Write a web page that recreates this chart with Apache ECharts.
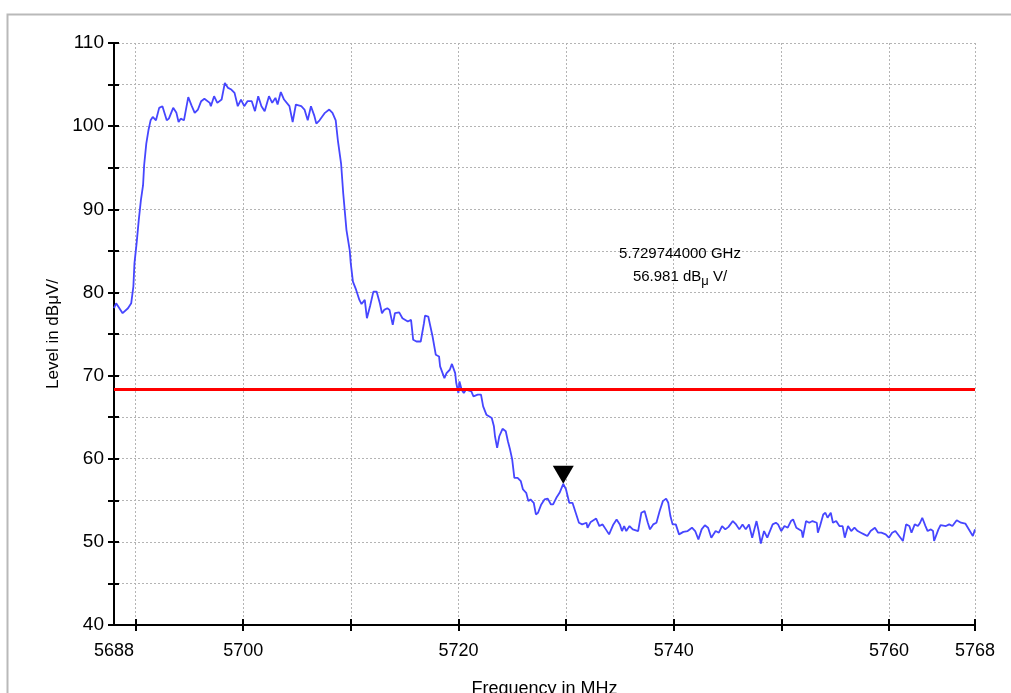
<!DOCTYPE html>
<html>
<head>
<meta charset="utf-8">
<script src="https://cdn.jsdelivr.net/npm/echarts@6/dist/echarts.min.js"></script>
<style>
html,body{margin:0;padding:0;background:#fff;}
#chart{width:1011px;height:693px;}
</style>
</head>
<body>
<div id="chart"></div>
<script>
const freq = [
5688.0,5688.2,5688.8,5689.3,5689.6,5689.8,5689.9,5690.1,5690.3,5690.5,5690.7,5690.8,5691.0,5691.2,5691.4,5691.6,5691.9,
5692.2,5692.5,5692.9,5693.1,5693.5,5693.8,5694.0,5694.2,5694.5,5694.9,5695.2,5695.5,5695.8,5696.1,5696.4,5696.9,5697.0,
5697.3,5697.6,5698.0,5698.3,5698.6,5698.9,5699.2,5699.5,5699.8,5700.1,5700.4,5700.8,5701.1,5701.4,5701.7,5702.0,5702.4,
5702.7,5703.0,5703.2,5703.5,5703.8,5704.3,5704.6,5704.9,5705.4,5705.7,5706.0,5706.3,5706.6,5706.8,5707.1,5707.6,5708.0,
5708.3,5708.6,5708.8,5709.1,5709.3,5709.6,5709.9,5710.0,5710.2,5710.5,5710.8,5711.0,5711.3,5711.5,5711.8,5712.1,5712.4,
5712.7,5712.9,5713.1,5713.4,5713.6,5713.9,5714.1,5714.5,5714.8,5715.3,5715.6,5715.8,5716.1,5716.5,5716.8,5716.9,5717.2,
5717.4,5717.6,5717.9,5718.2,5718.3,5718.7,5718.9,5719.2,5719.4,5719.7,5719.8,5720.0,5720.1,5720.3,5720.5,5720.7,5721.2,
5721.4,5721.8,5722.1,5722.3,5722.6,5723.1,5723.3,5723.4,5723.6,5723.8,5724.1,5724.4,5724.6,5724.8,5725.0,5725.2,5725.5,
5725.8,5726.0,5726.3,5726.5,5726.7,5727.0,5727.2,5727.4,5727.7,5728.0,5728.3,5728.6,5728.8,5729.1,5729.4,5729.744,5730.0,
5730.3,5730.6,5730.9,5731.2,5731.5,5731.9,5732.0,5732.3,5732.8,5733.1,5733.4,5733.7,5734.0,5734.4,5734.7,5735.0,5735.2,
5735.4,5735.6,5735.9,5736.2,5736.7,5737.0,5737.3,5737.6,5737.8,5738.1,5738.4,5738.7,5739.0,5739.3,5739.5,5739.7,5739.9,
5740.2,5740.5,5740.9,5741.3,5741.7,5742.0,5742.3,5742.6,5742.9,5743.2,5743.5,5743.9,5744.2,5744.5,5744.8,5745.1,5745.5,
5745.8,5746.1,5746.4,5746.7,5747.0,5747.3,5747.7,5747.9,5748.1,5748.4,5748.7,5749.2,5749.5,5749.7,5750.0,5750.3,5750.6,
5750.9,5751.1,5751.4,5751.9,5752.0,5752.3,5752.6,5752.9,5753.3,5753.4,5753.6,5753.9,5754.1,5754.3,5754.6,5754.8,5755.1,
5755.4,5755.7,5755.9,5756.2,5756.5,5756.8,5757.1,5757.4,5757.7,5758.0,5758.3,5758.7,5759.0,5759.3,5759.7,5760.0,5760.3,
5760.6,5761.3,5761.6,5761.9,5762.1,5762.4,5762.7,5762.9,5763.1,5763.4,5763.6,5763.9,5764.1,5764.2,5764.6,5764.8,5765.3,
5765.6,5765.9,5766.3,5766.7,5767.1,5767.8,5768.0
];
const level = [
78.1,78.7,77.5,78.1,78.7,80.7,83.5,85.9,88.7,91.1,92.9,95.3,97.9,99.5,100.7,101.1,100.7,
102.2,102.4,100.7,100.9,102.2,101.6,100.5,100.9,100.7,103.5,102.5,101.6,102.0,103.0,103.3,102.8,102.4,
103.6,102.8,103.2,105.2,104.6,104.4,104.0,102.4,103.2,102.4,103.0,103.0,101.8,103.6,102.4,101.8,103.6,
102.8,103.4,102.6,104.1,103.2,102.4,100.5,102.6,102.4,102.0,100.7,102.4,101.3,100.3,100.7,101.6,102.0,
101.6,100.7,98.3,95.5,91.9,87.5,85.1,83.5,81.3,80.3,79.1,78.6,79.1,76.9,78.4,80.1,80.1,
78.7,77.5,77.9,78.1,77.9,76.1,77.5,77.6,76.9,76.5,76.7,74.3,74.1,74.1,76.3,77.2,77.1,
75.9,74.7,72.5,72.3,71.1,69.7,70.3,70.7,71.4,70.3,69.1,67.9,69.3,68.3,67.9,68.3,68.1,
67.5,67.7,67.7,66.3,65.3,64.9,63.9,62.7,61.3,62.7,63.6,63.3,62.1,61.1,59.9,57.7,57.7,
57.3,56.3,55.9,54.9,55.1,54.7,53.3,53.5,54.5,55.1,55.2,54.5,54.5,55.3,55.9,56.981,56.3,
54.7,54.7,53.5,52.3,52.1,52.3,51.7,52.4,52.8,51.9,52.1,51.5,50.9,52.1,52.7,52.1,51.3,
51.9,51.3,51.9,51.5,51.3,53.5,53.7,52.3,51.5,52.1,52.3,53.7,54.9,55.2,54.7,53.1,52.1,
52.1,50.9,51.2,51.3,51.7,51.3,50.3,51.5,52.0,51.7,50.5,51.3,51.1,51.9,51.5,51.8,52.5,
52.1,51.5,52.1,51.5,52.1,50.5,52.5,51.3,49.8,51.3,50.5,52.1,52.3,52.1,51.3,51.9,51.7,
52.5,52.7,51.7,51.3,50.5,52.5,52.3,52.5,52.3,51.1,51.9,53.3,53.5,52.9,53.5,52.3,52.5,
51.9,51.9,50.5,51.9,51.3,51.7,51.3,51.1,50.9,50.7,51.3,51.7,51.1,51.1,50.9,50.5,51.1,
51.3,50.1,52.1,51.9,51.1,52.1,51.9,52.3,52.9,51.9,51.3,51.5,51.3,50.1,51.5,52.0,51.9,
52.1,51.9,52.6,52.3,52.2,50.7,51.5
];
const limitLevel = 68.4;
const markerFreq = 5729.744;
const markerLevel = 56.981;
const markerLines = ['5.729744000 GHz', '56.981 dB{sub|\u03bc} V/'];
const xTickValues = [5690,5700,5710,5720,5730,5740,5750,5760,5768];
const xLabelValues = [5688,5700,5720,5740,5760,5768];
const xMin = 5688, xMax = 5768;
const yMin = 40, yMax = 110, yStep = 5;
const xName = 'Frequency in MHz';
const yName = 'Level in dB\u03bcV/';

const chart = echarts.init(document.getElementById('chart'));
const FONT = 'Liberation Sans, Arial, sans-serif';
const grid = {left:114, top:43, right:36, bottom:68, containLabel:false, outerBoundsMode:'none'};
const split = {show:true, lineStyle:{color:'#b4b4b4', type:[2,2], width:1}};

const option = {
  animation:false,
  backgroundColor:'#fff',
  grid: grid,
  xAxis: [{
    type:'value', min:xMin, max:xMax,
    axisLine:{show:true, onZero:false, lineStyle:{color:'#000', width:2}},
    axisTick:{show:true, length:6, inside:false, customValues:xTickValues, lineStyle:{color:'#000', width:2}},
    axisLabel:{show:true, customValues:xLabelValues, color:'#000', fontSize:18, fontFamily:FONT, margin:17,
      formatter: v => String(v)},
    splitLine: split,
    name:xName, nameLocation:'middle', nameGap:55,
    nameTextStyle:{color:'#000', fontSize:18, fontFamily:FONT}
  },{
    type:'value', min:xMin, max:xMax, position:'bottom',
    axisLine:{show:false},
    axisTick:{show:true, length:6, inside:true, customValues:xTickValues, lineStyle:{color:'#000', width:2}},
    axisLabel:{show:false}, splitLine:{show:false}
  }],
  yAxis: [{
    type:'value', min:yMin, max:yMax, interval:yStep,
    axisLine:{show:true, onZero:false, lineStyle:{color:'#000', width:2}},
    axisTick:{show:true, length:6, inside:false, lineStyle:{color:'#000', width:2}},
    axisLabel:{color:'#000', fontSize:19, fontFamily:FONT, margin:10,
      formatter: v => (v % 10 === 0 ? String(v) : '')},
    splitLine: split,
    name:yName, nameLocation:'middle', nameGap:52, nameRotate:90,
    nameTextStyle:{color:'#000', fontSize:17, fontFamily:FONT}
  },{
    type:'value', min:yMin, max:yMax, interval:yStep, position:'left',
    axisLine:{show:false},
    axisTick:{show:true, length:5, inside:true, lineStyle:{color:'#000', width:2}},
    axisLabel:{show:false}, splitLine:{show:false}
  }],
  graphic: [
    {type:'rect', left:5, top:12, z:-10, silent:true,
     shape:{width:1100, height:800}, style:{fill:'none', stroke:'#b9b9b9', lineWidth:2}},
    {type:'text', x:680, y:265, z:10, silent:true,
     style:{
       text: markerLines[0] + '\n' + markerLines[1],
       align:'center', verticalAlign:'middle', fill:'#000',
       font:'15px ' + FONT, lineHeight:23,
       rich:{sub:{fontSize:13, fontFamily:FONT, verticalAlign:'bottom', padding:[6,0,0,0], fill:'#000'}}
     }}
  ],
  series: [{
    type:'line',
    xAxisIndex:0, yAxisIndex:0,
    data: freq.map((f,i)=>[f, level[i]]),
    showSymbol:false, symbol:'none',
    lineStyle:{color:'#4646ff', width:1.8},
    z:3,
    markLine:{
      silent:true, symbol:['none','none'], label:{show:false},
      lineStyle:{color:'#ff0000', width:3, type:'solid'},
      data:[{yAxis:limitLevel}]
    },
    markPoint:{
      silent:true,
      data:[{coord:[markerFreq, markerLevel]}],
      symbol:'triangle', symbolRotate:180, symbolSize:[21,18], symbolOffset:[0,-9],
      itemStyle:{color:'#000'}, label:{show:false}
    }
  }]
};
chart.setOption(option);
</script>
</body>
</html>
